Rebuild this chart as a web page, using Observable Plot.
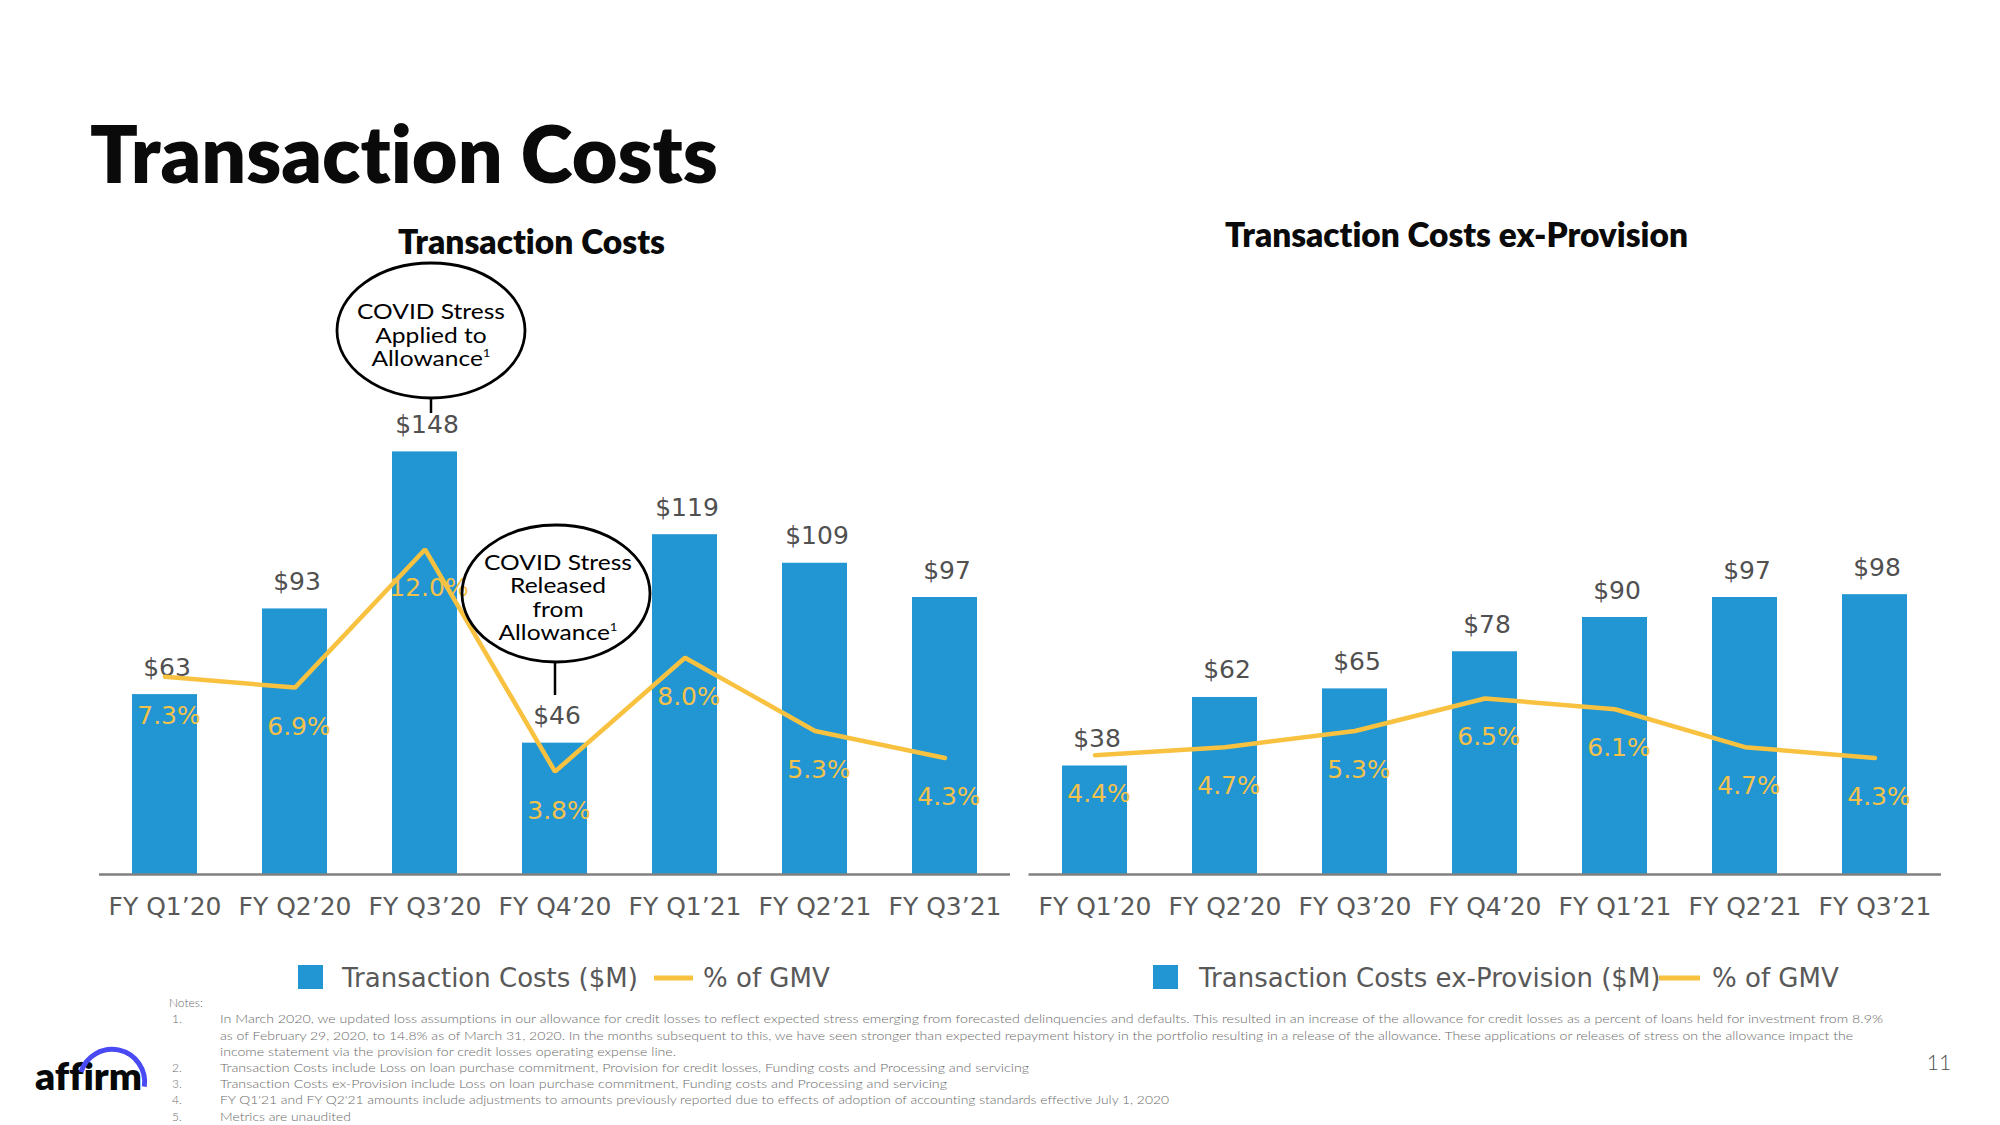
<!DOCTYPE html>
<html>
<head>
<meta charset="utf-8">
<script src="https://cdn.jsdelivr.net/npm/d3@7"></script>
<script src="https://cdn.jsdelivr.net/npm/@observablehq/plot@0.6"></script>
<style>
  html, body { margin: 0; padding: 0; background: #fff; }
  #page { position: relative; width: 2000px; height: 1125px; overflow: hidden; background: #fff; }
  .panel { position: absolute; top: 380px; height: 560px; }
  .panel svg { position: absolute; left: 0; top: 0; max-width: none !important; }
  #deco { position: absolute; left: 0; top: 0; pointer-events: none; font-variant-ligatures: none; font-feature-settings: "liga" 0; }
  #deco text { font-variant-ligatures: none; font-feature-settings: "liga" 0; }
</style>
</head>
<body>
<div id="page">
  <div id="leftPanel" class="panel" style="left:0px; width:1020px;"></div>
  <div id="rightPanel" class="panel" style="left:1020px; width:980px;"></div>
</div>
<script>
// ---------------- DATA ----------------
const quarters = ["FY Q1’20", "FY Q2’20", "FY Q3’20", "FY Q4’20", "FY Q1’21", "FY Q2’21", "FY Q3’21"];
const transactionCosts = [63, 93, 148, 46, 119, 109, 97];          // $M
const transactionPctGMV = [7.3, 6.9, 12.0, 3.8, 8.0, 5.3, 4.3];     // % of GMV
const exProvisionCosts = [38, 62, 65, 78, 90, 97, 98];              // $M
const exProvisionPctGMV = [4.4, 4.7, 5.3, 6.5, 6.1, 4.7, 4.3];      // % of GMV

const leftTitle = "Transaction Costs";
const rightTitle = "Transaction Costs ex-Provision";
const leftLegend = "Transaction Costs ($M)";
const rightLegend = "Transaction Costs ex-Provision ($M)";
const pctLegend = "% of GMV";
const notes = [
  ["1.", "In March 2020, we updated loss assumptions in our allowance for credit losses to reflect expected stress emerging from forecasted delinquencies and defaults. This resulted in an increase of the allowance for credit losses as a percent of loans held for investment from 8.9%"],
  ["", "as of February 29, 2020, to 14.8% as of March 31, 2020. In the months subsequent to this, we have seen stronger than expected repayment history in the portfolio resulting in a release of the allowance. These applications or releases of stress on the allowance impact the"],
  ["", "income statement via the provision for credit losses operating expense line."],
  ["2.", "Transaction Costs include Loss on loan purchase commitment, Provision for credit losses, Funding costs and Processing and servicing"],
  ["3.", "Transaction Costs ex-Provision include Loss on loan purchase commitment, Funding costs and Processing and servicing"],
  ["4.", "FY Q1'21 and FY Q2'21 amounts include adjustments to amounts previously reported due to effects of adoption of accounting standards effective July 1, 2020"],
  ["5.", "Metrics are unaudited"]
];

// ---------------- STYLE ----------------
const BAR = "#2196D3";
const LINE = "#F8C240";
const PCT_TEXT = "#F4C14B";
const VAL_TEXT = "#505050";
const AXIS_TEXT = "#595959";

function panel(container, costs, pcts, o) {
  const data = quarters.map((q, i) => ({q, v: costs[i], p: pcts[i]}));
  const base = {
    width: o.width, height: 560,
    marginTop: 20, marginBottom: 66, marginLeft: o.mL, marginRight: o.mR,
    style: {background: "transparent", overflow: "visible", maxWidth: "none", fontFamily: "DejaVu Sans, sans-serif", color: AXIS_TEXT}
  };
  const xs = {type: "band", domain: quarters, paddingInner: 0.5, paddingOuter: 0.25, label: null};
  const bars = Plot.plot({
    ...base,
    x: xs,
    y: {domain: [0, 166], axis: null},
    marks: [
      Plot.barY(data, {x: "q", y: "v", fill: BAR}),
      Plot.ruleY([0], {stroke: "#808080", strokeWidth: 2.5}),
      Plot.text(data, {x: "q", y: "v", text: d => "$" + d.v, dy: -27, dx: 2, fontSize: 25, fill: VAL_TEXT}),
      Plot.axisX({tickSize: 0, tickPadding: 23, fontSize: 25, label: null})
    ]
  });
  const line = Plot.plot({
    ...base,
    x: {...xs, axis: null},
    y: {domain: [0, 17.5], axis: null},
    marks: [
      Plot.line(data, {x: "q", y: "p", stroke: LINE, strokeWidth: 4.5, strokeLinejoin: "miter"}),
      Plot.text(data, {x: "q", y: "p", text: d => d.p.toFixed(1) + "%", dy: 39, dx: 4, fontSize: 25, fill: PCT_TEXT})
    ]
  });
  container.appendChild(bars);
  container.appendChild(line);
}

panel(document.getElementById("leftPanel"), transactionCosts, transactionPctGMV, {width: 1020, mL: 99, mR: 10});
panel(document.getElementById("rightPanel"), exProvisionCosts, exProvisionPctGMV, {width: 980, mL: 8.5, mR: 59});

// ---------------- DECORATION (titles, annotations, legends, notes) ----------------
const svg = d3.select("#page").append("svg").attr("id", "deco")
  .attr("width", 2000).attr("height", 1125);

function fitText(sel, target) {
  const node = sel.node();
  const fs = parseFloat(sel.attr("font-size"));
  const len = node.getComputedTextLength();
  sel.attr("font-size", (fs * target / len).toFixed(2));
}

const HEAD = "Lato, 'Open Sans', sans-serif";
const title = svg.append("text").attr("x", 90).attr("y", 183).attr("font-family", HEAD)
  .attr("font-weight", 800).attr("font-size", 76).attr("fill", "#0a0a0a").text("Transaction Costs");
fitText(title, 628);

const t1 = svg.append("text").attr("x", 531.5).attr("y", 254).attr("text-anchor", "middle")
  .attr("font-family", HEAD).attr("font-weight", 800).attr("font-size", 28).attr("fill", "#0a0a0a").text(leftTitle);
fitText(t1, 267);
const t2 = svg.append("text").attr("x", 1456.5).attr("y", 247).attr("text-anchor", "middle")
  .attr("font-family", HEAD).attr("font-weight", 800).attr("font-size", 28).attr("fill", "#0a0a0a").text(rightTitle);
fitText(t2, 463);

// annotation bubbles (text kept at the reference cap height, widened to the reference width)
const BUBBLE_FS = 20.5;
let bubbleSX = null;
function bubble(cx, cy, rx, ry, lines, baselines, tx, lineFrom, lineTo, lineX) {
  svg.append("ellipse").attr("cx", cx).attr("cy", cy).attr("rx", rx).attr("ry", ry)
    .attr("fill", "none").attr("stroke", "#000").attr("stroke-width", 2.8);
  svg.append("line").attr("x1", lineX).attr("x2", lineX).attr("y1", lineFrom).attr("y2", lineTo)
    .attr("stroke", "#000").attr("stroke-width", 2.5);
  lines.forEach((s, i) => {
    const g = svg.append("g");
    const t = g.append("text").attr("x", 0).attr("y", 0).attr("text-anchor", "middle")
      .attr("font-family", HEAD).attr("font-size", BUBBLE_FS).attr("fill", "#000");
    if (s.endsWith("¹")) {
      t.append("tspan").text(s.slice(0, -1));
      t.append("tspan").attr("font-size", 11).attr("dy", -9).text("1");
    } else t.text(s);
    if (bubbleSX === null) bubbleSX = 148 / t.node().getComputedTextLength();
    g.attr("transform", `translate(${tx},${baselines[i]}) scale(${bubbleSX.toFixed(3)},1)`);
  });
}
bubble(431, 330.5, 94, 67.5, ["COVID Stress", "Applied to", "Allowance¹"], [319, 343, 366], 431, 398, 413, 431);
bubble(556, 593.5, 94, 68.5, ["COVID Stress", "Released", "from", "Allowance¹"], [570, 593, 617, 640], 558, 662, 695, 555);

// legends
function legend(sqX, label, textX, lineX1, lineX2, pctX) {
  svg.append("rect").attr("x", sqX).attr("y", 965).attr("width", 25).attr("height", 24).attr("fill", BAR);
  svg.append("text").attr("x", textX).attr("y", 987).attr("font-family", "DejaVu Sans, sans-serif")
    .attr("font-size", 26).attr("fill", AXIS_TEXT).text(label);
  svg.append("line").attr("x1", lineX1).attr("x2", lineX2).attr("y1", 978).attr("y2", 978)
    .attr("stroke", LINE).attr("stroke-width", 5);
  svg.append("text").attr("x", pctX).attr("y", 987).attr("font-family", "DejaVu Sans, sans-serif")
    .attr("font-size", 26).attr("fill", AXIS_TEXT).text(pctLegend);
}
legend(298, leftLegend, 342, 654, 693, 703);
legend(1153, rightLegend, 1199, 1659, 1700, 1712);

// notes
const NOTE_FONT = "Lato, 'Open Sans', sans-serif";
svg.append("text").attr("x", 169).attr("y", 1007).attr("font-family", NOTE_FONT).attr("font-size", 12)
  .attr("fill", "#6b6b6b").attr("font-weight", 300).text("Notes:");
const noteBaselines = [1023, 1040, 1056, 1072, 1088, 1104, 1121];
const noteWidths = [1663, 1633, 456, 809, 727, 949, 131];
notes.forEach((n, i) => {
  if (n[0]) svg.append("text").attr("x", 172).attr("y", noteBaselines[i]).attr("font-family", NOTE_FONT)
    .attr("font-size", 12).attr("fill", "#6b6b6b").attr("font-weight", 300).text(n[0]);
  svg.append("text").attr("x", 220).attr("y", noteBaselines[i]).attr("font-family", NOTE_FONT)
    .attr("font-size", 12).attr("fill", "#6b6b6b").attr("font-weight", 300)
    .attr("textLength", noteWidths[i]).attr("lengthAdjust", "spacingAndGlyphs").text(n[1]);
});

// page number
svg.append("text").attr("x", 1939).attr("y", 1070).attr("text-anchor", "middle").attr("font-family", NOTE_FONT)
  .attr("font-size", 21).attr("fill", "#4a4a4a").attr("font-weight", 300).text("11");

// logo
svg.append("text").attr("x", 35).attr("y", 1090).attr("font-family", HEAD).attr("font-weight", 800)
  .attr("font-size", 38).attr("fill", "#060809").attr("textLength", 107).attr("lengthAdjust", "spacingAndGlyphs").text("affirm");
svg.append("path").attr("d", "M 81 1072 A 32.6 32.6 0 0 1 144.3 1086.7").attr("fill", "none")
  .attr("stroke", "#4A4AF4").attr("stroke-width", 5).attr("stroke-linecap", "butt");
</script>
</body>
</html>
